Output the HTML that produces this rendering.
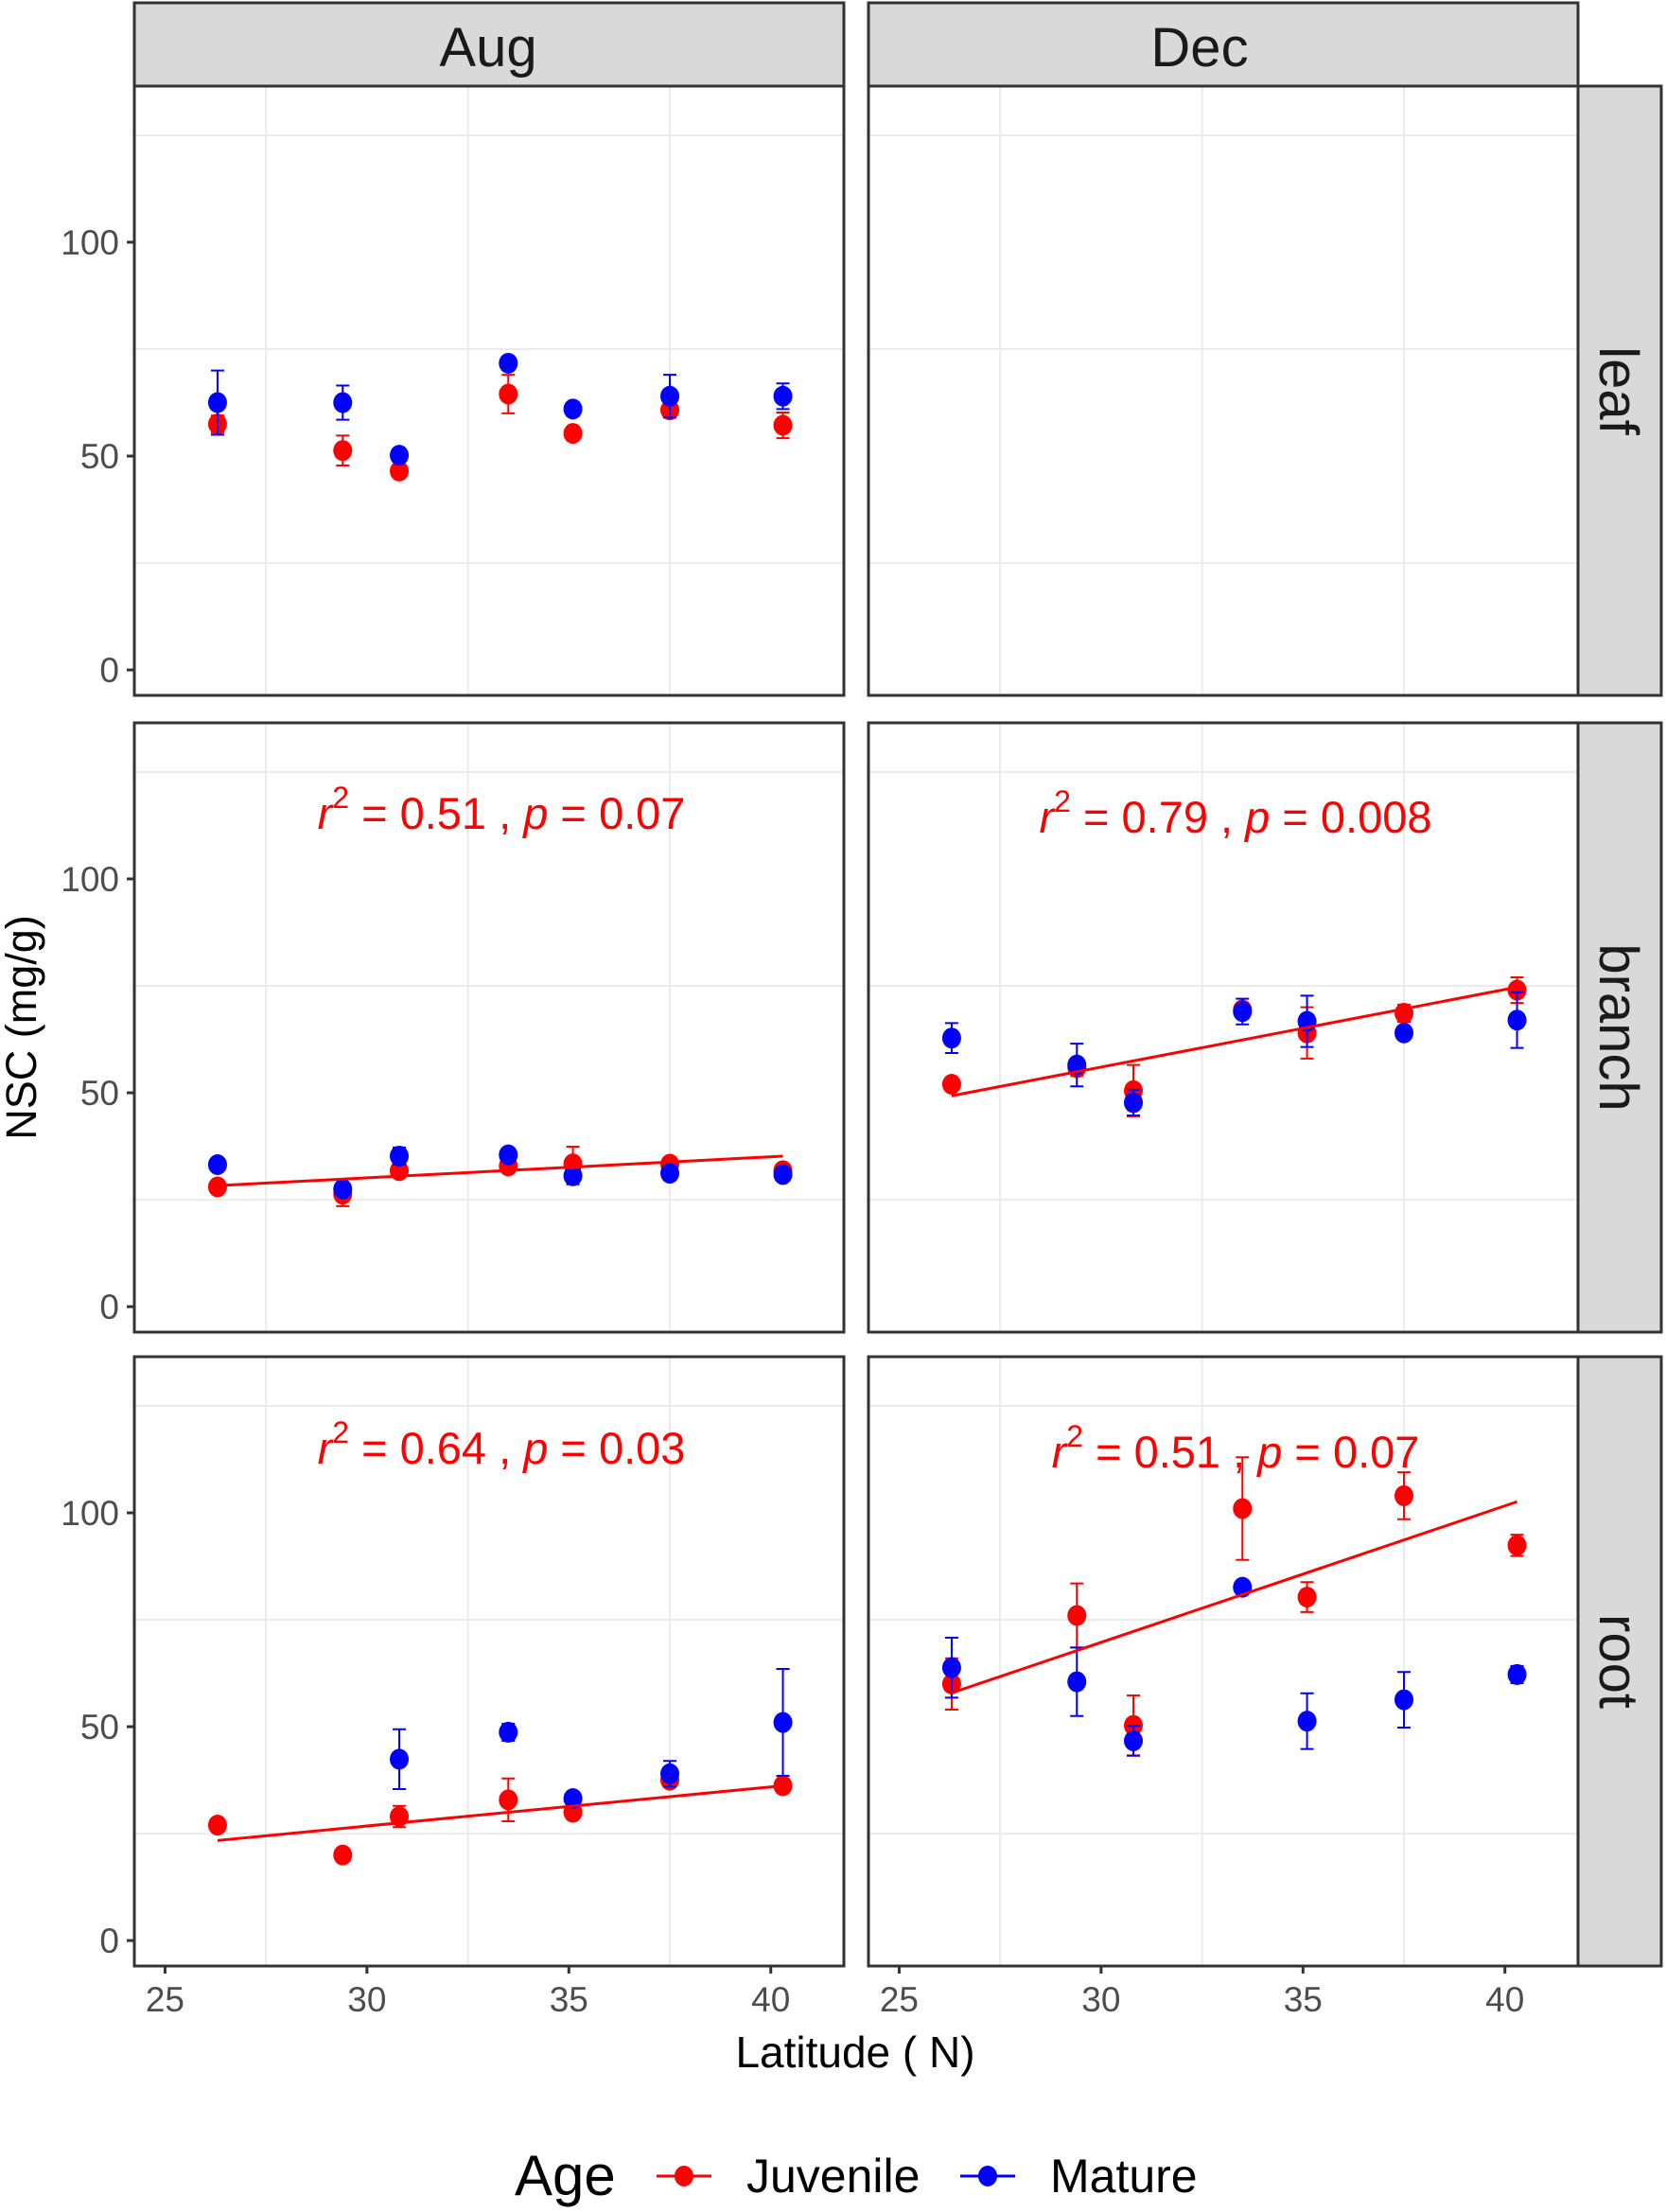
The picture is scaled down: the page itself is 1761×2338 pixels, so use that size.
<!DOCTYPE html>
<html><head><meta charset="utf-8"><style>
html,body{margin:0;padding:0;background:#fff;}
svg{display:block;font-family:"Liberation Sans",Arial,sans-serif;}
</style></head><body>
<svg id="chart" width="1761" height="2338" viewBox="0 0 1761 2338" xmlns="http://www.w3.org/2000/svg"></svg>
<script>
const lats = [26.3, 29.4, 30.8, 33.5, 35.1, 37.5, 40.3];
const months = ["Aug", "Dec"];
const organs = ["leaf", "branch", "root"];
const xTicks = [25, 30, 35, 40];
const yTicks = [0, 50, 100];
const juvLeafAug = [57.5, 51.3, 46.5, 64.5, 55.3, 60.8, 57.2];
const juvLeafAugErr = [2, 3.5, 1, 4.5, 1.5, 1.5, 3];
const matLeafAug = [62.5, 62.5, 50.2, 71.7, 61, 64, 64];
const matLeafAugErr = [7.5, 4, 1, 1.5, 1, 5, 3];
const juvBranchAug = [28, 26.3, 31.8, 32.9, 33.4, 33.3, 31.8];
const juvBranchAugErr = [1, 2.8, 1, 1, 4, 1, 1];
const matBranchAug = [33.2, 27.5, 35.2, 35.5, 30.6, 31.2, 30.9];
const matBranchAugErr = [1, 1.5, 2, 1, 2, 1, 1];
const juvBranchDec = [52, 55.9, 50.5, 69.4, 64, 68.6, 74];
const juvBranchDecErr = [1, 2, 6, 1.5, 6, 2, 3];
const matBranchDec = [62.8, 56.5, 47.7, 69, 66.7, 64, 67];
const matBranchDecErr = [3.5, 5, 3, 3, 6, 1, 6.5];
const juvRootAug = [27, 20, 29, 32.9, 30, 37.5, 36.2];
const juvRootAugErr = [1, 1, 2.5, 5, 1, 1.5, 1];
const matRootAug = [null, null, 42.4, 48.7, 33.2, 39, 51];
const matRootAugErr = [0, 0, 7, 2, 1.5, 3, 12.5];
const juvRootDec = [60, 76, 50.3, 101, 80.3, 104, 92.4];
const juvRootDecErr = [6, 7.5, 7, 12, 3.5, 5.5, 2.5];
const matRootDec = [63.8, 60.5, 46.7, 82.6, 51.3, 56.3, 62.2];
const matRootDecErr = [7, 8, 3.5, 1.5, 6.5, 6.5, 2];
const fitBranchAug = [28.3, 35.2];
const fitBranchDec = [49.3, 74.7];
const fitRootAug = [23.4, 36.2];
const fitRootDec = [57.9, 102.6];
const annotBranchAug = ["0.51", "0.07"];
const annotBranchDec = ["0.79", "0.008"];
const annotRootAug = ["0.64", "0.03"];
const annotRootDec = ["0.51", "0.07"];

const panels = [
 {r:0,c:0,juv:juvLeafAug,je:juvLeafAugErr,mat:matLeafAug,me:matLeafAugErr},
 {r:0,c:1},
 {r:1,c:0,juv:juvBranchAug,je:juvBranchAugErr,mat:matBranchAug,me:matBranchAugErr,fit:fitBranchAug,ann:annotBranchAug,ay:876},
 {r:1,c:1,juv:juvBranchDec,je:juvBranchDecErr,mat:matBranchDec,me:matBranchDecErr,fit:fitBranchDec,ann:annotBranchDec,ay:880},
 {r:2,c:0,juv:juvRootAug,je:juvRootAugErr,mat:matRootAug,me:matRootAugErr,fit:fitRootAug,ann:annotRootAug,ay:1547},
 {r:2,c:1,juv:juvRootDec,je:juvRootDecErr,mat:matRootDec,me:matRootDecErr,fit:fitRootDec,ann:annotRootDec,ay:1551}
];

const NS = "http://www.w3.org/2000/svg";
const svg = document.getElementById("chart");
function mk(tag, attrs, parent, text){
  const e = document.createElementNS(NS, tag);
  for (const k in attrs) e.setAttribute(k, attrs[k]);
  if (text !== undefined) e.textContent = text;
  (parent||svg).appendChild(e);
  return e;
}
const colL = [142, 918], colW = 750;
const rowT = [91, 764, 1434], rowH = 644;
const xMin = 24.24, xMax = 41.81, yMin = -5.95, yMax = 136.5;
function xs(c, v){ return colL[c] + (v - xMin) / (xMax - xMin) * colW; }
function ys(r, v){ return rowT[r] + rowH - (v - yMin) / (yMax - yMin) * rowH; }
const RED = "#ff0000", BLUE = "#0000ff";
const stripX = [516, 1268];

months.forEach((m, c) => {
  const g = mk("g", {});
  
  
  mk("rect", {x: colL[c], y: 3, width: colW, height: 88, fill: "#d9d9d9", stroke: "#333", "stroke-width": 3}, g);
  const t = mk("text", {x: stripX[c], y: 70, "text-anchor": "middle", "font-size": 58, fill: "#1a1a1a"}, g, m);
  
  
});
organs.forEach((o, r) => {
  const g = mk("g", {});
  
  
  mk("rect", {x: 1668, y: rowT[r], width: 88, height: rowH, fill: "#d9d9d9", stroke: "#333", "stroke-width": 3}, g);
  const cy = rowT[r] + rowH/2, cx = 1691;
  const t = mk("text", {x: cx, y: cy, "text-anchor": "middle", "font-size": 58, fill: "#1a1a1a", transform: `rotate(90 ${cx} ${cy})`}, g, o);
  
  
});

panels.forEach(p => {
  const r = p.r, c = p.c;
  const g = mk("g", {});
  
  
  const L = colL[c], T = rowT[r];
  mk("rect", {x: L, y: T, width: colW, height: rowH, fill: "#fff"}, g);
  [27.5, 32.5, 37.5].forEach(v => mk("line", {x1: xs(c,v), x2: xs(c,v), y1: T, y2: T+rowH, stroke: "#ebebeb", "stroke-width": 2}, g));
  [25, 75, 125].forEach(v => mk("line", {x1: L, x2: L+colW, y1: ys(r,v), y2: ys(r,v), stroke: "#ebebeb", "stroke-width": 2}, g));
  [[p.juv, p.je, RED, 'juvenile'], [p.mat, p.me, BLUE, 'mature']].forEach(s => {
    if (!s[0]) return;
    s[0].forEach((v, i) => {
      if (v === null) return;
      const x = xs(c, lats[i]), e = s[1][i];
      const eb = mk("path", {d: `M${x-7},${ys(r,v+e)}H${x+7}M${x},${ys(r,v+e)}V${ys(r,v-e)}M${x-7},${ys(r,v-e)}H${x+7}`, stroke: s[2], "stroke-width": 2, fill: "none"}, g);
      
      
      const pt = mk("ellipse", {cx: x, cy: ys(r, v), rx: 10, ry: 11, fill: s[2]}, g);
      
      
    });
  });
  if (p.fit) {
    const ln = mk("line", {x1: xs(c, lats[0]), y1: ys(r, p.fit[0]), x2: xs(c, lats[6]), y2: ys(r, p.fit[1]), stroke: RED, "stroke-width": 3}, g);
    
    
  }
  if (p.ann) {
    const t = mk("text", {x: L + 388, y: p.ay, "text-anchor": "middle", "font-size": 47, fill: RED}, g);
    
    
    mk("tspan", {"font-style": "italic"}, t, "r");
    mk("tspan", {"font-size": 32, dy: -22}, t, "2");
    mk("tspan", {dy: 22}, t, " = " + p.ann[0] + " , ");
    mk("tspan", {"font-style": "italic"}, t, "p");
    mk("tspan", {}, t, " = " + p.ann[1]);
  }
  mk("rect", {x: L, y: T, width: colW, height: rowH, fill: "none", stroke: "#333", "stroke-width": 3}, g);
  if (c === 0) {
    yTicks.forEach(v => {
      mk("line", {x1: L-8, x2: L, y1: ys(r,v), y2: ys(r,v), stroke: "#333", "stroke-width": 3}, svg);
      const tl = mk("text", {x: L-16, y: ys(r,v)+13, "text-anchor": "end", "font-size": 37, fill: "#4d4d4d"}, svg, String(v));
      
      
    });
  }
  if (r === 2) {
    xTicks.forEach(v => {
      mk("line", {x1: xs(c,v), x2: xs(c,v), y1: T+rowH, y2: T+rowH+8, stroke: "#333", "stroke-width": 3}, svg);
      const tl = mk("text", {x: xs(c,v), y: T+rowH+48, "text-anchor": "middle", "font-size": 37, fill: "#4d4d4d"}, svg, String(v));
      
      
    });
  }
});
</script>
<div style="position:absolute;left:0;top:0;width:1761px;height:2338px;pointer-events:none;">
<svg width="1761" height="2338" style="position:absolute;left:0;top:0;font-family:'Liberation Sans',Arial,sans-serif">
  <text x="38" y="1086" text-anchor="middle" font-size="45" fill="#000" transform="rotate(-90 38 1086)">NSC (mg/g)</text>
  <text x="904" y="2185" text-anchor="middle" font-size="46" fill="#000">Latitude ( N)</text>
  <g>
    <text x="544" y="2320" font-size="60" fill="#000">Age</text>
    <g>
      <line x1="694" x2="752" y1="2300" y2="2300" stroke="#ff0000" stroke-width="3"/>
      <ellipse cx="723" cy="2300" rx="10" ry="11" fill="#ff0000"/>
      <text x="789" y="2317" font-size="50" fill="#000">Juvenile</text>
    </g>
    <g>
      <line x1="1015" x2="1073" y1="2300" y2="2300" stroke="#0000ff" stroke-width="3"/>
      <ellipse cx="1044" cy="2300" rx="10" ry="11" fill="#0000ff"/>
      <text x="1110" y="2317" font-size="50" fill="#000">Mature</text>
    </g>
  </g>
</svg>
</div>
</body></html>
